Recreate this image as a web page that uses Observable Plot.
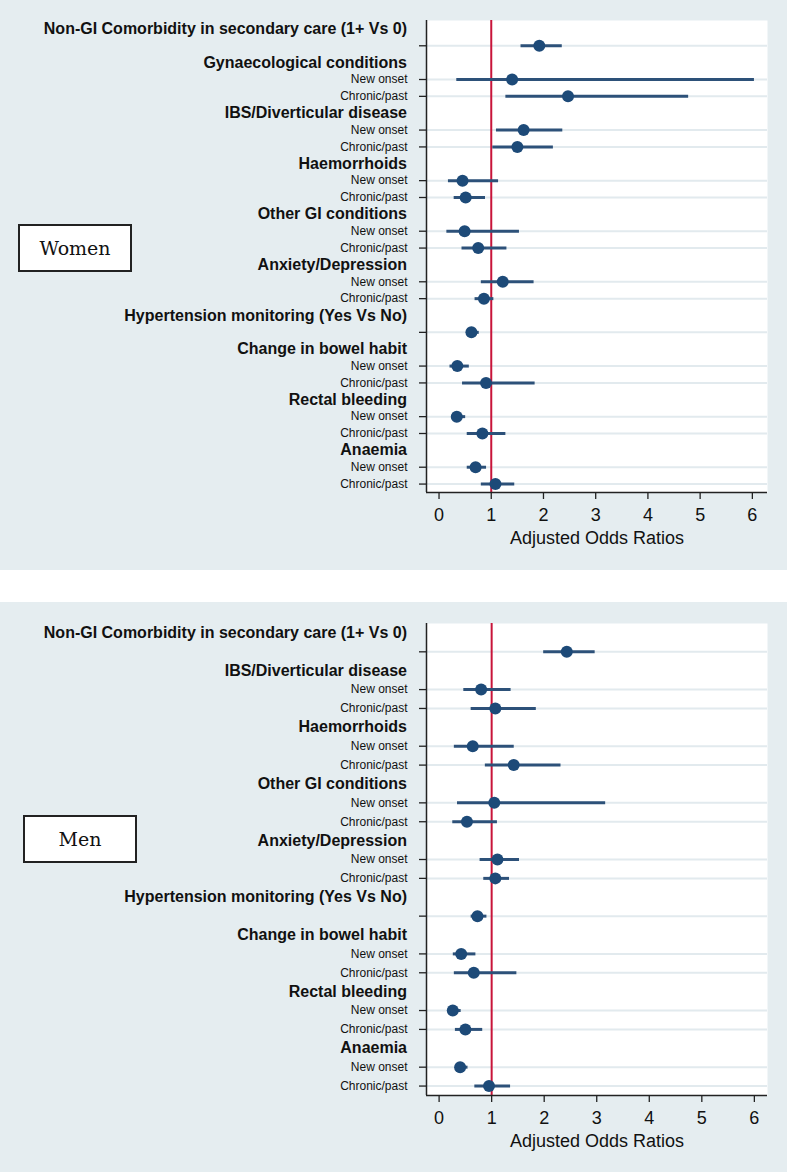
<!DOCTYPE html>
<html>
<head>
<meta charset="utf-8">
<script src="https://cdn.jsdelivr.net/npm/d3@7"></script>
<script src="https://cdn.jsdelivr.net/npm/@observablehq/plot@0.6"></script>
<style>
  html, body { margin: 0; padding: 0; background: #ffffff; }
  #page { position: relative; width: 787px; height: 1172px; background: #ffffff; overflow: hidden; }
  .panel { position: absolute; left: 0; width: 787px; height: 570px; background: #e5edf0; }
  .panel svg { position: absolute; left: 0; top: 0; }
  .box { position: absolute; box-sizing: border-box; width: 114px; height: 48px; background: #ffffff;
         border: 2px solid #222; display: flex; align-items: center; justify-content: center;
         font-family: "DejaVu Serif", serif; font-size: 19px; color: #111; }
</style>
</head>
<body>
<div id="page">
  <div class="panel" id="women" style="top:0px"></div>
  <div class="panel" id="men" style="top:602px"></div>
</div>
<script>
// ---- Data ----
const single = [""];
const pair = ["New onset", "Chronic/past"];

const womenGroups = [
  "Non-GI Comorbidity in secondary care (1+ Vs 0)",
  "Gynaecological conditions",
  "IBS/Diverticular disease",
  "Haemorrhoids",
  "Other GI conditions",
  "Anxiety/Depression",
  "Hypertension monitoring (Yes Vs No)",
  "Change in bowel habit",
  "Rectal bleeding",
  "Anaemia"
];
const womenSubs = [single, pair, pair, pair, pair, pair, single, pair, pair, pair];
const womenOR = [1.92, 1.40, 2.47, 1.62, 1.50, 0.45, 0.51, 0.49, 0.75, 1.22, 0.86, 0.62, 0.35, 0.90, 0.34, 0.83, 0.70, 1.08];
const womenLo = [1.57, 0.34, 1.28, 1.10, 1.03, 0.18, 0.29, 0.15, 0.44, 0.81, 0.69, 0.53, 0.21, 0.45, 0.24, 0.54, 0.54, 0.81];
const womenHi = [2.36, 6.04, 4.78, 2.37, 2.19, 1.14, 0.89, 1.54, 1.30, 1.82, 1.05, 0.77, 0.58, 1.84, 0.51, 1.28, 0.91, 1.45];

const menGroups = [
  "Non-GI Comorbidity in secondary care (1+ Vs 0)",
  "IBS/Diverticular disease",
  "Haemorrhoids",
  "Other GI conditions",
  "Anxiety/Depression",
  "Hypertension monitoring (Yes Vs No)",
  "Change in bowel habit",
  "Rectal bleeding",
  "Anaemia"
];
const menSubs = [single, pair, pair, pair, pair, single, pair, pair, pair];
const menOR = [2.43, 0.80, 1.07, 0.64, 1.42, 1.05, 0.53, 1.11, 1.07, 0.73, 0.42, 0.66, 0.26, 0.50, 0.40, 0.95];
const menLo = [1.99, 0.47, 0.61, 0.29, 0.88, 0.35, 0.26, 0.78, 0.85, 0.61, 0.27, 0.29, 0.18, 0.31, 0.31, 0.68];
const menHi = [2.97, 1.37, 1.85, 1.43, 2.32, 3.17, 1.11, 1.53, 1.34, 0.91, 0.70, 1.48, 0.42, 0.83, 0.55, 1.36];

const xTicks = [0, 1, 2, 3, 4, 5, 6];
const xTitle = "Adjusted Odds Ratios";
const refValue = 1;

// ---- Build ----
function build(groups, subs, OR, LO, HI) {
  const rows = [], headers = [];
  let idx = 0, k = 0;
  groups.forEach((g, gi) => {
    headers.push({i: idx++, label: g});
    subs[gi].forEach(s => {
      rows.push({i: idx++, sub: s, or: OR[k], lo: LO[k], hi: HI[k]});
      k++;
    });
  });
  return {rows, headers, n: idx};
}

function panel(el, data, xDomain, mTop, mBottom, boxLabel, boxLeft, boxTop) {
  const {rows, headers, n} = data;
  const yDomain = [n - 0.5, -0.5];
  const subMap = new Map(rows.map(d => [d.i, d.sub]));
  const headMap = new Map(headers.map(d => [d.i, d.label]));
  const chart = Plot.plot({
    width: 787,
    height: 570,
    marginLeft: 426,
    marginRight: 20,
    marginTop: mTop,
    marginBottom: mBottom,
    x: {domain: xDomain, label: null},
    y: {domain: yDomain, label: null},
    style: {background: "transparent", fontFamily: "'Liberation Sans', Arial, Helvetica, sans-serif", color: "#111"},
    marks: [
      Plot.frame({fill: "#ffffff", stroke: null}),
      Plot.ruleY(rows, {y: "i", stroke: "#e2eaee", strokeWidth: 2}),
      Plot.ruleX([refValue], {stroke: "#c8143a", strokeWidth: 2}),
      Plot.ruleY(rows, {y: "i", x1: "lo", x2: "hi", stroke: "#2d5179", strokeWidth: 3}),
      Plot.dot(rows, {x: "or", y: "i", r: 6, fill: "#1d4a78", stroke: null}),
      Plot.axisY(rows.map(d => d.i), {tickSize: 7, tickPadding: 12, tickFormat: i => subMap.get(i), fontSize: 12, stroke: "#222", strokeWidth: 1.3, label: null}),
      Plot.axisY(headers.map(d => d.i), {tickSize: 0, tickPadding: 19.5, tickFormat: i => headMap.get(i), fontSize: 16, fontWeight: "bold", label: null}),
      Plot.axisX(xTicks, {tickSize: 7, tickPadding: 9, fontSize: 18, stroke: "#222", strokeWidth: 1.3, label: null}),
      Plot.ruleX([xDomain[0]], {stroke: "#222", strokeWidth: 1.5}),
      Plot.ruleY([yDomain[0]], {stroke: "#222", strokeWidth: 1.5}),
      Plot.text([xTitle], {frameAnchor: "bottom", dy: 51, fontSize: 18, fill: "#111"})
    ]
  });
  const host = document.getElementById(el);
  host.appendChild(chart);
  const box = document.createElement("div");
  box.className = "box";
  box.style.left = boxLeft + "px";
  box.style.top = boxTop + "px";
  box.textContent = boxLabel;
  host.appendChild(box);
}

panel("women", build(womenGroups, womenSubs, womenOR, womenLo, womenHi), [-0.24, 6.29], 20, 78, "Women", 18, 224);
panel("men", build(menGroups, menSubs, menOR, menLo, menHi), [-0.24, 6.25], 21, 77, "Men", 23, 213);
</script>
</body>
</html>
